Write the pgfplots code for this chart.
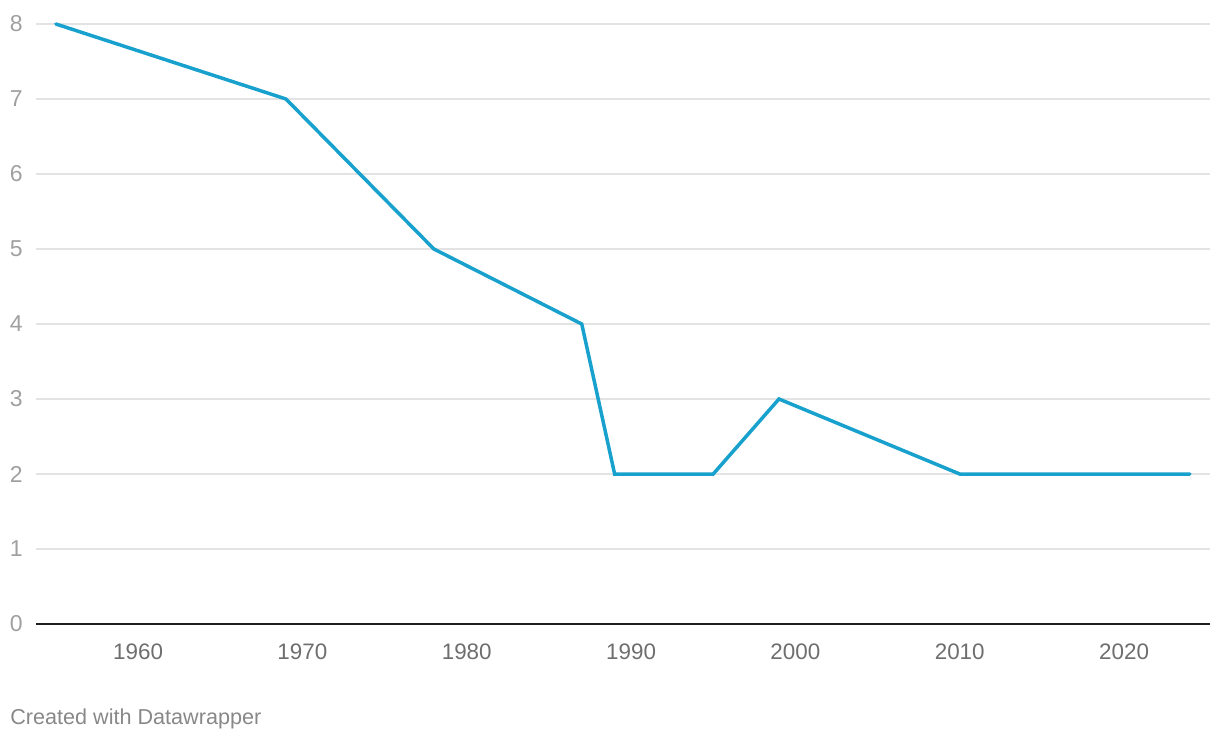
\documentclass[border=0pt]{standalone}
\usepackage{pgfplots}
\pgfplotsset{compat=1.18}
\usepackage{fontspec}
\setmainfont{Liberation Sans}
\definecolor{dwblue}{HTML}{18A1CD}
\definecolor{gridgray}{HTML}{E3E3E3}
\definecolor{ylab}{HTML}{A0A0A0}
\definecolor{xlab}{HTML}{6E6E6E}
\definecolor{credit}{HTML}{888888}
\begin{document}
\begin{tikzpicture}
\path[use as bounding box] (0,0) rectangle (610pt,370pt);
\begin{axis}[
  at={(18pt,58pt)}, anchor=south west,
  scale only axis, width=587pt, height=300pt,
  xmin=1953.79, xmax=2025.23, ymin=0, ymax=8,
  axis line style={draw=none},
  xtick={1960,1970,...,2020}, ytick={0,1,...,8},
  major tick length=0pt,
  ymajorgrids, grid style={gridgray, line width=1pt},
  xticklabel style={anchor=north, inner sep=0pt, yshift=-9.5pt, text=xlab, font=\fontsize{11.2}{13}\selectfont},
  yticklabel style={anchor=east, inner sep=0pt, xshift=-6.5pt, text=ylab, font=\fontsize{11.5}{13}\selectfont},
  /pgf/number format/assume math mode=true,
  /pgf/number format/1000 sep={},
  clip=false,
]
\addplot[dwblue, line width=1.75pt, line cap=round] coordinates {
(1955,8) (1969,7) (1978,5) (1987,4) (1989,2) (1995,2) (1999,3) (2010,2) (2024,2)
};
\draw[black!88, line width=1pt] (axis cs:1953.79,0) -- (axis cs:2025.23,0);
\end{axis}
\node[anchor=base west, inner sep=0pt, text=credit, font=\fontsize{10.8}{13}\selectfont] at (5pt,8pt) {Created with Datawrapper};
\end{tikzpicture}
\end{document}
